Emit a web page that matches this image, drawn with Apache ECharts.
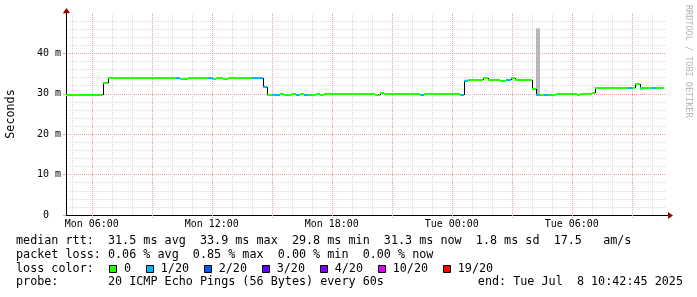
<!DOCTYPE html>
<html><head><meta charset="utf-8">
<script src="https://cdn.jsdelivr.net/npm/echarts@6/dist/echarts.min.js"></script>
<style>html,body{margin:0;padding:0;background:#fff}#c{width:697px;height:297px}</style>
</head><body><div id="c"></div>
<script>
// times are hours since Mon 00:00
const startHour = 4.7125;   // Mon 04:42:45
const endHour = 34.7125;    // Tue 10:42:45
const segStart = [4.71, 6.58, 6.80, 10.21, 10.41, 10.83, 11.83, 12.08, 12.21, 12.58, 12.83, 14.00, 14.58, 14.78, 15.00, 15.41, 15.61, 16.01, 16.21, 16.41, 16.61, 16.81, 17.21, 17.41, 17.61, 20.16, 20.41, 20.61, 21.61, 21.91, 22.11, 22.41, 22.61, 24.41, 24.61, 24.81, 25.56, 25.81, 26.41, 26.71, 26.96, 27.16, 28.01, 28.21, 28.41, 28.61, 28.81, 29.21, 30.26, 30.41, 31.01, 31.16, 32.81, 33.01, 33.16, 33.41, 34.01, 34.21];
const segRtt = [29.8, 32.6, 33.8, 33.9, 33.7, 33.8, 33.8, 33.6, 33.9, 33.6, 33.8, 33.8, 31.8, 29.8, 29.7, 30.0, 29.8, 30.0, 29.8, 29.9, 29.8, 29.8, 30.0, 29.8, 30.0, 29.8, 30.1, 29.9, 30.0, 29.9, 30.0, 29.8, 29.9, 29.8, 33.1, 33.3, 34.0, 33.3, 33.2, 33.3, 33.8, 33.3, 31.3, 29.7, 29.8, 29.7, 29.6, 29.9, 29.7, 29.9, 30.3, 31.4, 31.4, 31.4, 32.5, 31.4, 31.4, 31.4];
const segLoss = [0,0,0,1,0,0,1,0,0,0, 0,1,1,0,1,0,0,0,1,0, 1,0,0,0,0,0,0,0,0,0, 0,1,0,1,1,0,0,0,0,1, 0,0,0,1,0,1,0,0,0,0, 0,0,1,0,0,0,1,0];
const dataEnd = 34.61;
const smokeStart = [28.21, 33.41];
const smokeEnd = [28.41, 33.56];
const smokeLow = [29.9, 30.9];
const smokeHigh = [46.2, 31.4];
const xLabelHours = [6, 12, 18, 24, 30];
const xLabels = ['Mon 06:00', 'Mon 12:00', 'Mon 18:00', 'Tue 00:00', 'Tue 06:00'];
const lossLabels = ['0', '1/20', '2/20', '3/20', '4/20', '10/20', '19/20'];
const lossColors = ['#26ff00', '#00b8ff', '#0059ff', '#5e00ff', '#7e00ff', '#dd00ff', '#ff0000'];
const legendLines = [
  'median rtt:  31.5 ms avg  33.9 ms max  29.8 ms min  31.3 ms now  1.8 ms sd  17.5   am/s',
  'packet loss: 0.06 % avg  0.85 % max  0.00 % min  0.00 % now',
  'loss color:',
  'probe:       20 ICMP Echo Pings (56 Bytes) every 60s'
];
const endText = 'end: Tue Jul  8 10:42:45 2025';
const watermark = 'RRDTOOL / TOBI OETIKER';

const MONO = 'DejaVu Sans Mono';
const FS = 11.75, CW = FS * 0.602;

// vertical grid hours (every hour inside the window)
const gridHours = [];
for (let h = Math.ceil(startHour); h <= endHour; h++) gridHours.push(h);

const segData = segStart.map((s, i) => [s, i + 1 < segStart.length ? segStart[i + 1] : dataEnd, segRtt[i], segLoss[i], i > 0 ? segRtt[i - 1] : segRtt[i]]);
const smokeData = smokeStart.map((s, i) => [s, smokeEnd[i], smokeLow[i], smokeHigh[i]]);

const graphic = [];
const lineY = [241.3, 254.9, 268.6, 282.2];
legendLines.forEach((t, i) => {
  graphic.push({type: 'text', x: 16, y: lineY[i], style: {text: t, font: FS + 'px "' + MONO + '"', fill: '#000', verticalAlign: 'middle', align: 'left'}});
});
let bx = 16 + 13 * CW + 1.4;
lossLabels.forEach((lab, i) => {
  graphic.push({type: 'rect', shape: {x: Math.round(bx) + 0.5, y: 265.5, width: 7, height: 7}, style: {fill: lossColors[i], stroke: '#000', lineWidth: 1}});
  graphic.push({type: 'text', x: bx + 14.6, y: lineY[2], style: {text: lab, font: FS + 'px "' + MONO + '"', fill: '#000', verticalAlign: 'middle', align: 'left'}});
  bx += 29.7 + lab.length * CW;
});
graphic.push({type: 'text', x: 683, y: lineY[3], style: {text: endText, font: FS + 'px "' + MONO + '"', fill: '#000', verticalAlign: 'middle', align: 'right'}});
graphic.push({type: 'text', x: 688.5, y: 5, rotation: -Math.PI / 2, style: {text: watermark, font: '8.5px "' + MONO + '"', fill: '#b4b4b4', verticalAlign: 'middle', align: 'left'}});

const chart = echarts.init(document.getElementById('c'), null, {renderer: 'canvas'});
chart.setOption({
  animation: false,
  backgroundColor: '#fff',
  grid: {left: 66, right: 31, top: 13, bottom: 82, containLabel: false, outerBoundsMode: 'none'},
  xAxis: {
    type: 'value', min: startHour, max: endHour,
    axisLine: {show: true, lineStyle: {color: '#000', width: 1}},
    axisTick: {show: false}, axisLabel: {show: false}, splitLine: {show: false}
  },
  yAxis: {
    type: 'value', min: 0, max: 50, interval: 10,
    name: 'Seconds', nameLocation: 'middle', nameRotate: 90, nameGap: 49,
    nameTextStyle: {fontFamily: MONO, fontSize: FS, color: '#000'},
    axisLine: {show: true, lineStyle: {color: '#000', width: 1}},
    axisTick: {show: true, length: 3, lineStyle: {color: '#e4a0a0'}},
    axisLabel: {fontFamily: MONO, fontSize: 10, color: '#000', margin: 5,
      formatter: v => v === 0 ? '0  ' : (v >= 50 ? '' : v + ' m')},
    splitLine: {show: true, showMaxLine: false, lineStyle: {color: '#e4a0a0', type: [1, 1], width: 1}},
    minorTick: {show: false, splitNumber: 5},
    minorSplitLine: {show: true, lineStyle: {color: '#dadada', type: [1, 1], width: 1}}
  },
  graphic: graphic,
  series: [
    { // vertical grid lines
      type: 'custom', z: 1, silent: true, clip: false,
      data: gridHours.map(h => [h, h % 3 === 0 ? 1 : 0]),
      renderItem: (p, api) => {
        const a = api.coord([api.value(0), 0]);
        const b = api.coord([api.value(0), 50]);
        const x = Math.round(a[0]) + 0.5;
        const major = api.value(1) === 1;
        return {type: 'line', shape: {x1: x, y1: a[1] + (major ? 3 : 0), x2: x, y2: b[1]},
          style: {stroke: major ? '#e4a0a0' : '#dadada', lineWidth: 1, lineDash: [1, 1]}};
      }
    },
    { // x labels
      type: 'custom', z: 2, silent: true, clip: false,
      data: xLabelHours.map((h, i) => [h, i]),
      renderItem: (p, api) => {
        const a = api.coord([api.value(0), 0]);
        return {type: 'text', x: a[0], y: a[1] + 9.5,
          style: {text: xLabels[api.value(1)], font: '10px "' + MONO + '"', fill: '#000', align: 'center', verticalAlign: 'middle'}};
      }
    },
    { // smoke
      type: 'custom', z: 3, silent: true,
      data: smokeData,
      renderItem: (p, api) => {
        const a = api.coord([api.value(0), api.value(3)]);
        const b = api.coord([api.value(1), api.value(2)]);
        const x0 = Math.round(a[0]), x1 = Math.round(b[0]);
        return {type: 'rect', shape: {x: x0, y: a[1], width: Math.max(1, x1 - x0), height: b[1] - a[1]},
          style: {fill: '#b8b8b8'}};
      }
    },
    { // median rtt with loss colours
      type: 'custom', z: 4, silent: true,
      data: segData,
      renderItem: (p, api) => {
        const s = api.coord([api.value(0), api.value(2)]);
        const e = api.coord([api.value(1), api.value(2)]);
        const pv = api.coord([api.value(0), api.value(4)]);
        const xs = Math.round(s[0]), xe = Math.round(e[0]);
        const y = Math.round(s[1]);
        const yp = Math.round(pv[1]);
        const children = [];
        if (p.dataIndex > 0 && yp !== y) {
          children.push({type: 'line', shape: {x1: xs + 0.5, y1: yp, x2: xs + 0.5, y2: y}, style: {stroke: '#000', lineWidth: 1}});
        }
        children.push({type: 'line', shape: {x1: xs, y1: y, x2: xe, y2: y}, style: {stroke: lossColors[api.value(3)], lineWidth: 2}});
        return {type: 'group', children};
      }
    },
    { // axis arrows
      type: 'custom', z: 5, silent: true, clip: false,
      data: [[0]],
      renderItem: (p, api) => {
        const o = api.coord([startHour, 0]);
        const t = api.coord([startHour, 50]);
        const r = api.coord([endHour, 0]);
        const xo = Math.round(o[0]) + 0.5, yo = Math.round(o[1]) + 0.5;
        return {type: 'group', children: [
          {type: 'line', shape: {x1: r[0], y1: yo, x2: r[0] + 3, y2: yo}, style: {stroke: '#000', lineWidth: 1}},
          {type: 'polygon', shape: {points: [[xo - 3.5, t[1]], [xo + 3.5, t[1]], [xo, t[1] - 5]]}, style: {fill: '#a00000'}},
          {type: 'polygon', shape: {points: [[r[0] + 2, yo - 3.5], [r[0] + 2, yo + 3.5], [r[0] + 7, yo]]}, style: {fill: '#a00000'}}
        ]};
      }
    }
  ]
});
</script></body></html>
